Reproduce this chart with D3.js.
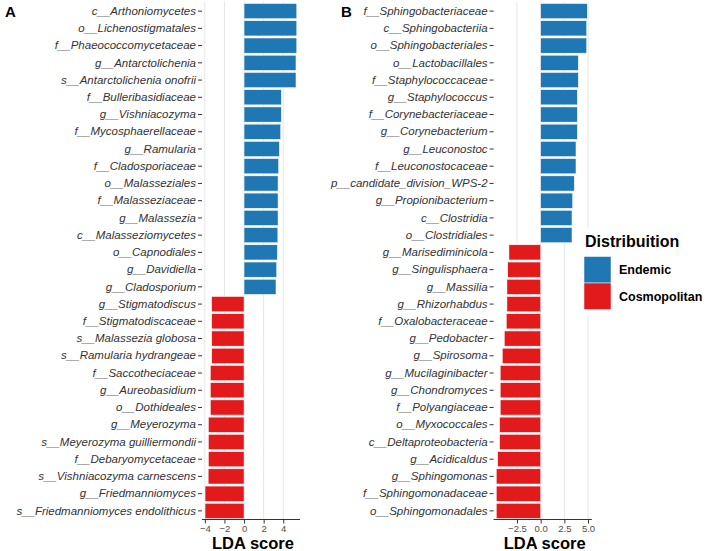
<!DOCTYPE html>
<html>
<head>
<meta charset="utf-8">
<script src="https://cdn.jsdelivr.net/npm/d3@7"></script>
<style>
  html, body { margin: 0; padding: 0; background: #ffffff; }
  svg { display: block; font-family: "Liberation Sans", Arial, sans-serif; }
</style>
</head>
<body>
<svg id="chart" width="709" height="551"></svg>
<script>
// ---------------- data ----------------
const taxaA = [
  "c__Arthoniomycetes", "o__Lichenostigmatales", "f__Phaeococcomycetaceae", "g__Antarctolichenia",
  "s__Antarctolichenia onofrii", "f__Bulleribasidiaceae", "g__Vishniacozyma", "f__Mycosphaerellaceae",
  "g__Ramularia", "f__Cladosporiaceae", "o__Malasseziales", "f__Malasseziaceae", "g__Malassezia",
  "c__Malasseziomycetes", "o__Capnodiales", "g__Davidiella", "g__Cladosporium",
  "g__Stigmatodiscus", "f__Stigmatodiscaceae", "s__Malassezia globosa", "s__Ramularia hydrangeae",
  "f__Saccotheciaceae", "g__Aureobasidium", "o__Dothideales", "g__Meyerozyma",
  "s__Meyerozyma guilliermondii", "f__Debaryomycetaceae", "s__Vishniacozyma carnescens",
  "g__Friedmanniomyces", "s__Friedmanniomyces endolithicus"
];
const ldaA = [
  5.38, 5.38, 5.38, 5.30, 5.30, 3.80, 3.80, 3.74, 3.60, 3.53, 3.47, 3.47, 3.47, 3.45, 3.40, 3.33, 3.26,
  -3.30, -3.30, -3.30, -3.30, -3.44, -3.44, -3.44, -3.64, -3.64, -3.64, -3.66, -3.98, -3.98
];
const taxaB = [
  "f__Sphingobacteriaceae", "c__Sphingobacteriia", "o__Sphingobacteriales", "o__Lactobacillales",
  "f__Staphylococcaceae", "g__Staphylococcus", "f__Corynebacteriaceae", "g__Corynebacterium",
  "g__Leuconostoc", "f__Leuconostocaceae", "p__candidate_division_WPS-2", "g__Propionibacterium",
  "c__Clostridia", "o__Clostridiales",
  "g__Marisediminicola", "g__Singulisphaera", "g__Massilia", "g__Rhizorhabdus", "f__Oxalobacteraceae",
  "g__Pedobacter", "g__Spirosoma", "g__Mucilaginibacter", "g__Chondromyces", "f__Polyangiaceae",
  "o__Myxococcales", "c__Deltaproteobacteria", "g__Acidicaldus", "g__Sphingomonas",
  "f__Sphingomonadaceae", "o__Sphingomonadales"
];
const ldaB = [
  4.92, 4.86, 4.86, 3.97, 3.97, 3.87, 3.87, 3.87, 3.73, 3.73, 3.55, 3.38, 3.31, 3.31,
  -3.35, -3.48, -3.56, -3.56, -3.63, -3.84, -4.05, -4.27, -4.27, -4.27, -4.33, -4.33, -4.54, -4.69, -4.69, -4.69
];
const ticksA = [-4, -2, 0, 2, 4];
const ticksB = [-2.5, 0, 2.5, 5];
const groups = ["Endemic", "Cosmopolitan"];
const groupColors = ["#1F78B4", "#E31A1C"];
const legendTitle = "Distribuition";
const axisTitle = "LDA score";

// ---------------- drawing ----------------
const svg = d3.select("#chart");
const color = d3.scaleOrdinal().domain(groups).range(groupColors);
const yTop = 2.5, yBottom = 519.5;

function panel(opts) {
  const { taxa, lda, ticks, x0, x1, domain, letter, letterX, fmt } = opts;
  const rows = taxa.map((t, i) => ({ taxon: t, lda: lda[i], group: lda[i] > 0 ? groups[0] : groups[1] }));
  const x = d3.scaleLinear().domain(domain).range([x0, x1]);
  const y = d3.scaleBand().domain(taxa).range([yTop, yBottom]).paddingInner(0.12).paddingOuter(0.06);
  const g = svg.append("g");

  // gridlines
  g.append("g").selectAll("line").data(ticks).join("line")
    .attr("x1", d => x(d)).attr("x2", d => x(d))
    .attr("y1", yTop - 1).attr("y2", yBottom)
    .attr("stroke", "#e6e6e6").attr("stroke-width", 1);

  // bars
  g.append("g").selectAll("rect").data(rows).join("rect")
    .attr("x", d => x(Math.min(0, d.lda)))
    .attr("width", d => Math.abs(x(d.lda) - x(0)))
    .attr("y", d => y(d.taxon))
    .attr("height", y.bandwidth())
    .attr("fill", d => color(d.group))
    .attr("stroke", "#ffffff").attr("stroke-width", 0.5);

  // y axis (labels + ticks, no line)
  const yAxis = d3.axisLeft(y).tickSize(4).tickPadding(2);
  const ya = g.append("g").attr("transform", `translate(${x0},0)`).call(yAxis);
  ya.select(".domain").remove();
  ya.selectAll(".tick line").attr("stroke", "#333333");
  ya.selectAll(".tick text")
    .attr("fill", "#333333")
    .style("font-size", "11.5px")
    .style("font-style", "italic");

  // x axis
  const xAxis = d3.axisBottom(x).tickValues(ticks).tickSize(4).tickPadding(2).tickFormat(fmt);
  const xa = g.append("g").attr("transform", `translate(0,${yBottom})`).call(xAxis);
  xa.select(".domain").attr("stroke", "#333333").attr("d", `M${x0},0H${x1}`);
  xa.selectAll(".tick line").attr("stroke", "#333333");
  xa.selectAll(".tick text").attr("fill", "#4d4d4d").style("font-size", "9.5px");

  // axis title
  g.append("text")
    .attr("x", (x0 + x1) / 2 + 2).attr("y", 549)
    .attr("text-anchor", "middle")
    .style("font-size", "16.5px").style("font-weight", "bold").attr("fill", "#000")
    .text(axisTitle);

  // panel letter
  g.append("text")
    .attr("x", letterX).attr("y", 17)
    .style("font-size", "15px").style("font-weight", "bold").attr("fill", "#000")
    .text(letter);
}

panel({ taxa: taxaA, lda: ldaA, ticks: ticksA, x0: 202, x1: 300, domain: [-4.29, 5.71],
        letter: "A", letterX: 5, fmt: d3.format("d") });
panel({ taxa: taxaB, lda: ldaB, ticks: ticksB, x0: 493.6, x1: 591.8, domain: [-4.97, 5.4],
        letter: "B", letterX: 341, fmt: d3.format(".1f") });

// legend
const leg = svg.append("g");
leg.append("rect").attr("x", 578).attr("y", 228).attr("width", 131).attr("height", 88).attr("fill", "#ffffff");
leg.append("text").attr("x", 585).attr("y", 247)
  .style("font-size", "16px").style("font-weight", "bold").attr("fill", "#000").text(legendTitle);
leg.selectAll("rect.key").data(groups).join("rect").attr("class", "key")
  .attr("x", 584).attr("y", (d, i) => 256.5 + i * 26.5)
  .attr("width", 27).attr("height", 26.5)
  .attr("fill", d => color(d)).attr("stroke", "#ffffff").attr("stroke-width", 0.5);
leg.selectAll("text.lab").data(groups).join("text").attr("class", "lab")
  .attr("x", 619).attr("y", (d, i) => 274 + i * 26.5)
  .style("font-size", "12.5px").style("font-weight", "bold").attr("fill", "#000")
  .text(d => d);
</script>
</body>
</html>
